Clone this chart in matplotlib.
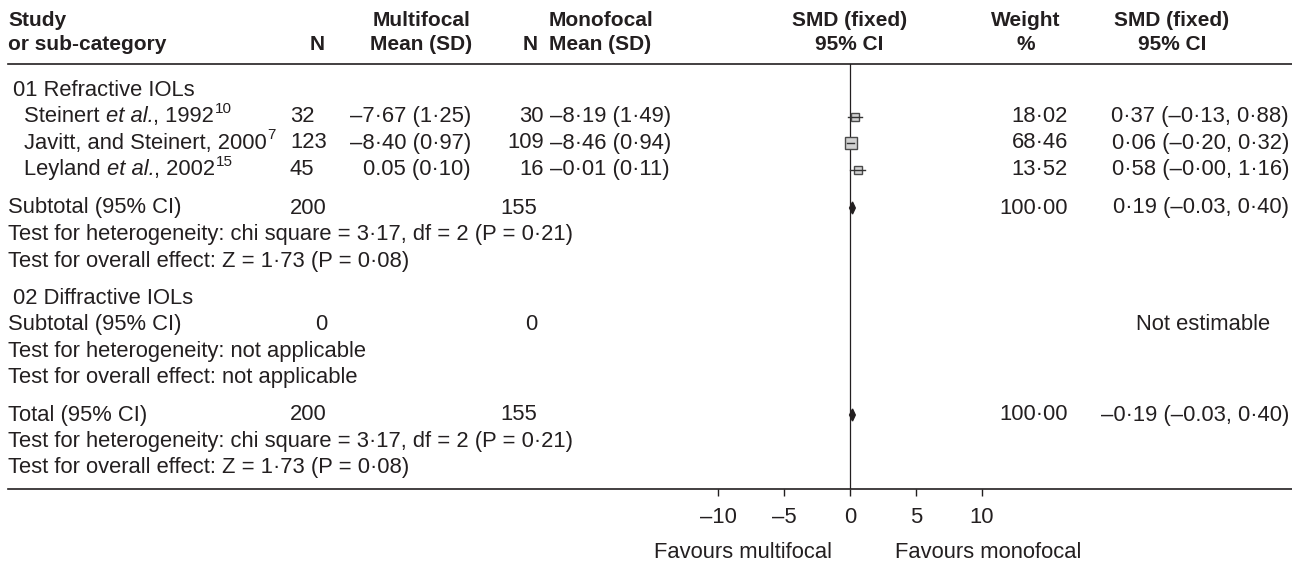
import numpy as np
import matplotlib
matplotlib.use("Agg")
import matplotlib.pyplot as plt
from matplotlib.patches import Polygon

plt.rcParams['font.family'] = ['Liberation Sans', 'DejaVu Sans']

# --- data ---
STUDY_NAME = ["Steinert ", "Javitt, and Steinert, 2000", "Leyland "]
STUDY_ITAL = ["et al.", "", "et al."]
STUDY_YEAR = [", 1992", "", ", 2002"]
STUDY_REF = ["10", "7", "15"]
N_MULTI = [32, 123, 45]
MEAN_MULTI = ["–7·67 (1·25)", "–8·40 (0·97)", "0.05 (0·10)"]
N_MONO = [30, 109, 16]
MEAN_MONO = ["–8·19 (1·49)", "–8·46 (0·94)", "–0·01 (0·11)"]
SMD = [0.37, 0.06, 0.58]
CI_LO = [-0.13, -0.20, -0.00]
CI_HI = [0.88, 0.32, 1.16]
WEIGHT = [18.02, 68.46, 13.52]
SMD_TEXT = ["0·37 (–0·13, 0·88)", "0·06 (–0·20, 0·32)", "0·58 (–0·00, 1·16)"]

SUB_N = [200, 155]
SUB_SMD, SUB_LO, SUB_HI = 0.19, -0.03, 0.40
SUB_TEXT = "0·19 (–0.03, 0·40)"
TOTAL_TEXT = "–0·19 (–0.03, 0·40)"
HET_TEXT = "Test for heterogeneity: chi square = 3·17, df = 2 (P = 0·21)"
EFFECT_TEXT = "Test for overall effect: Z = 1·73 (P = 0·08)"

TICKS = [-10, -5, 0, 5, 10]
TICK_LABELS = ["–10", "–5", "0", "5", "10"]

INK = '#231f20'
FS = 15.8
W, H = 1292, 564


def fmt(v):
    return f"{v:.2f}".replace('.', '·')


def main():
    fig = plt.figure(figsize=(W / 100, H / 100), dpi=100)
    ax = fig.add_axes([0, 0, 1, 1])
    ax.set_xlim(0, W)
    ax.set_ylim(H, 0)
    ax.axis('off')

    def t(x, y, s, ha='left', bold=False, **kw):
        return ax.text(x, y, s, ha=ha, va='center',
                       fontsize=15 if bold else FS,
                       fontweight='bold' if bold else 'normal', color=INK, **kw)

    def after(prev, s, style='normal'):
        # chain a text piece right after the previous one, same baseline
        return ax.annotate(s, xy=(1, 0), xycoords=prev, va='bottom',
                           ha='left', fontsize=FS, style=style, color=INK)

    # header
    top_line, bot_line = 64, 489
    t(8, 20, "Study", bold=True)
    t(8, 45, "or sub-category", bold=True)
    t(325, 45, "N", ha='right', bold=True)
    t(470, 20, "Multifocal", ha='right', bold=True)
    t(472, 45, "Mean (SD)", ha='right', bold=True)
    t(538, 45, "N", ha='right', bold=True)
    t(549, 20, "Monofocal", bold=True)
    t(549, 45, "Mean (SD)", bold=True)
    t(850, 20, "SMD (fixed)", ha='center', bold=True)
    t(849, 45, "95% CI", ha='center', bold=True)
    t(1026, 20, "Weight", ha='center', bold=True)
    t(1026, 45, "%", ha='center', bold=True)
    t(1172, 20, "SMD (fixed)", ha='center', bold=True)
    t(1172, 45, "95% CI", ha='center', bold=True)
    ax.plot([8, W], [top_line, top_line], color=INK, lw=1.2)
    ax.plot([8, W], [bot_line, bot_line], color=INK, lw=1.2)

    # rows
    step = 26.5
    y_grp1 = 90
    study_y = [y_grp1 + step * (i + 1) for i in range(len(STUDY_NAME))]
    y_sub1 = 208
    y_grp2 = 298
    y_sub2 = y_grp2 + step
    y_total = 415

    t(13, y_grp1, "01 Refractive IOLs")
    for i, y in enumerate(study_y):
        prev = t(24, y, STUDY_NAME[i])
        if STUDY_ITAL[i]:
            prev = after(prev, STUDY_ITAL[i], 'italic')
        if STUDY_YEAR[i]:
            prev = after(prev, STUDY_YEAR[i])
        ax.annotate(STUDY_REF[i], xy=(1, 1), xycoords=prev,
                    xytext=(0.2, 3.0), textcoords='offset points',
                    va='top', ha='left', fontsize=11, color=INK)
        t(290, y, str(N_MULTI[i]))
        t(471, y, MEAN_MULTI[i], ha='right')
        t(544, y, str(N_MONO[i]), ha='right')
        t(550, y, MEAN_MONO[i])
        t(1068, y, fmt(WEIGHT[i]), ha='right')
        t(1289, y, SMD_TEXT[i], ha='right')

    for y, label, smd_txt in [(y_sub1, "Subtotal (95% CI)", SUB_TEXT),
                              (y_total, "Total (95% CI)", TOTAL_TEXT)]:
        t(8, y, label)
        t(327, y, str(SUB_N[0]), ha='right')
        t(537, y, str(SUB_N[1]), ha='right')
        t(1068, y, fmt(sum(WEIGHT)), ha='right')
        t(1289, y, smd_txt, ha='right')
        t(8, y + step, HET_TEXT)
        t(8, y + 2 * step, EFFECT_TEXT)

    t(13, y_grp2, "02 Diffractive IOLs")
    t(8, y_sub2, "Subtotal (95% CI)")
    t(327, y_sub2, "0", ha='right')
    t(537, y_sub2, "0", ha='right')
    t(1270, y_sub2, "Not estimable", ha='right')
    t(8, y_sub2 + step, "Test for heterogeneity: not applicable")
    t(8, y_sub2 + 2 * step, "Test for overall effect: not applicable")

    t(832, 553, "Favours multifocal", ha='right')
    t(895, 553, "Favours monofocal")

    # forest panel
    px_unit = 13.2
    left = 850 - 10 * px_unit
    fax = fig.add_axes([left / W, (H - bot_line) / H, 20 * px_unit / W,
                        (bot_line - top_line) / H])
    fax.set_xlim(-10, 10)
    fax.set_ylim(bot_line, top_line)
    fax.patch.set_alpha(0)
    for s in fax.spines.values():
        s.set_visible(False)
    fax.set_yticks([])
    fax.set_xticks(TICKS, labels=TICK_LABELS)
    fax.tick_params(axis='x', length=5, width=1, pad=8, labelsize=FS,
                    colors=INK)
    fax.axvline(0, color=INK, lw=0.9)

    for i, y in enumerate(study_y):
        ms = 5.0 + 0.058 * WEIGHT[i]
        fax.plot(SMD[i], y, marker='s', ms=ms, mfc='#d2d2d2', mec='#4a4a4a',
                 mew=1.0, zorder=3, clip_on=False)
        fax.plot([CI_LO[i], CI_HI[i]], [y, y], color='#333333', lw=1.0,
                 zorder=4, clip_on=False)

    for y in [y_sub1, y_total]:
        dia = Polygon([[SUB_LO, y], [SUB_SMD, y - 6], [SUB_HI, y],
                       [SUB_SMD, y + 6]], closed=True, fc=INK, ec=INK, lw=1,
                      zorder=4, clip_on=False)
        fax.add_patch(dia)

    fig.savefig("out.png", dpi=100)


if __name__ == '__main__':
    main()
